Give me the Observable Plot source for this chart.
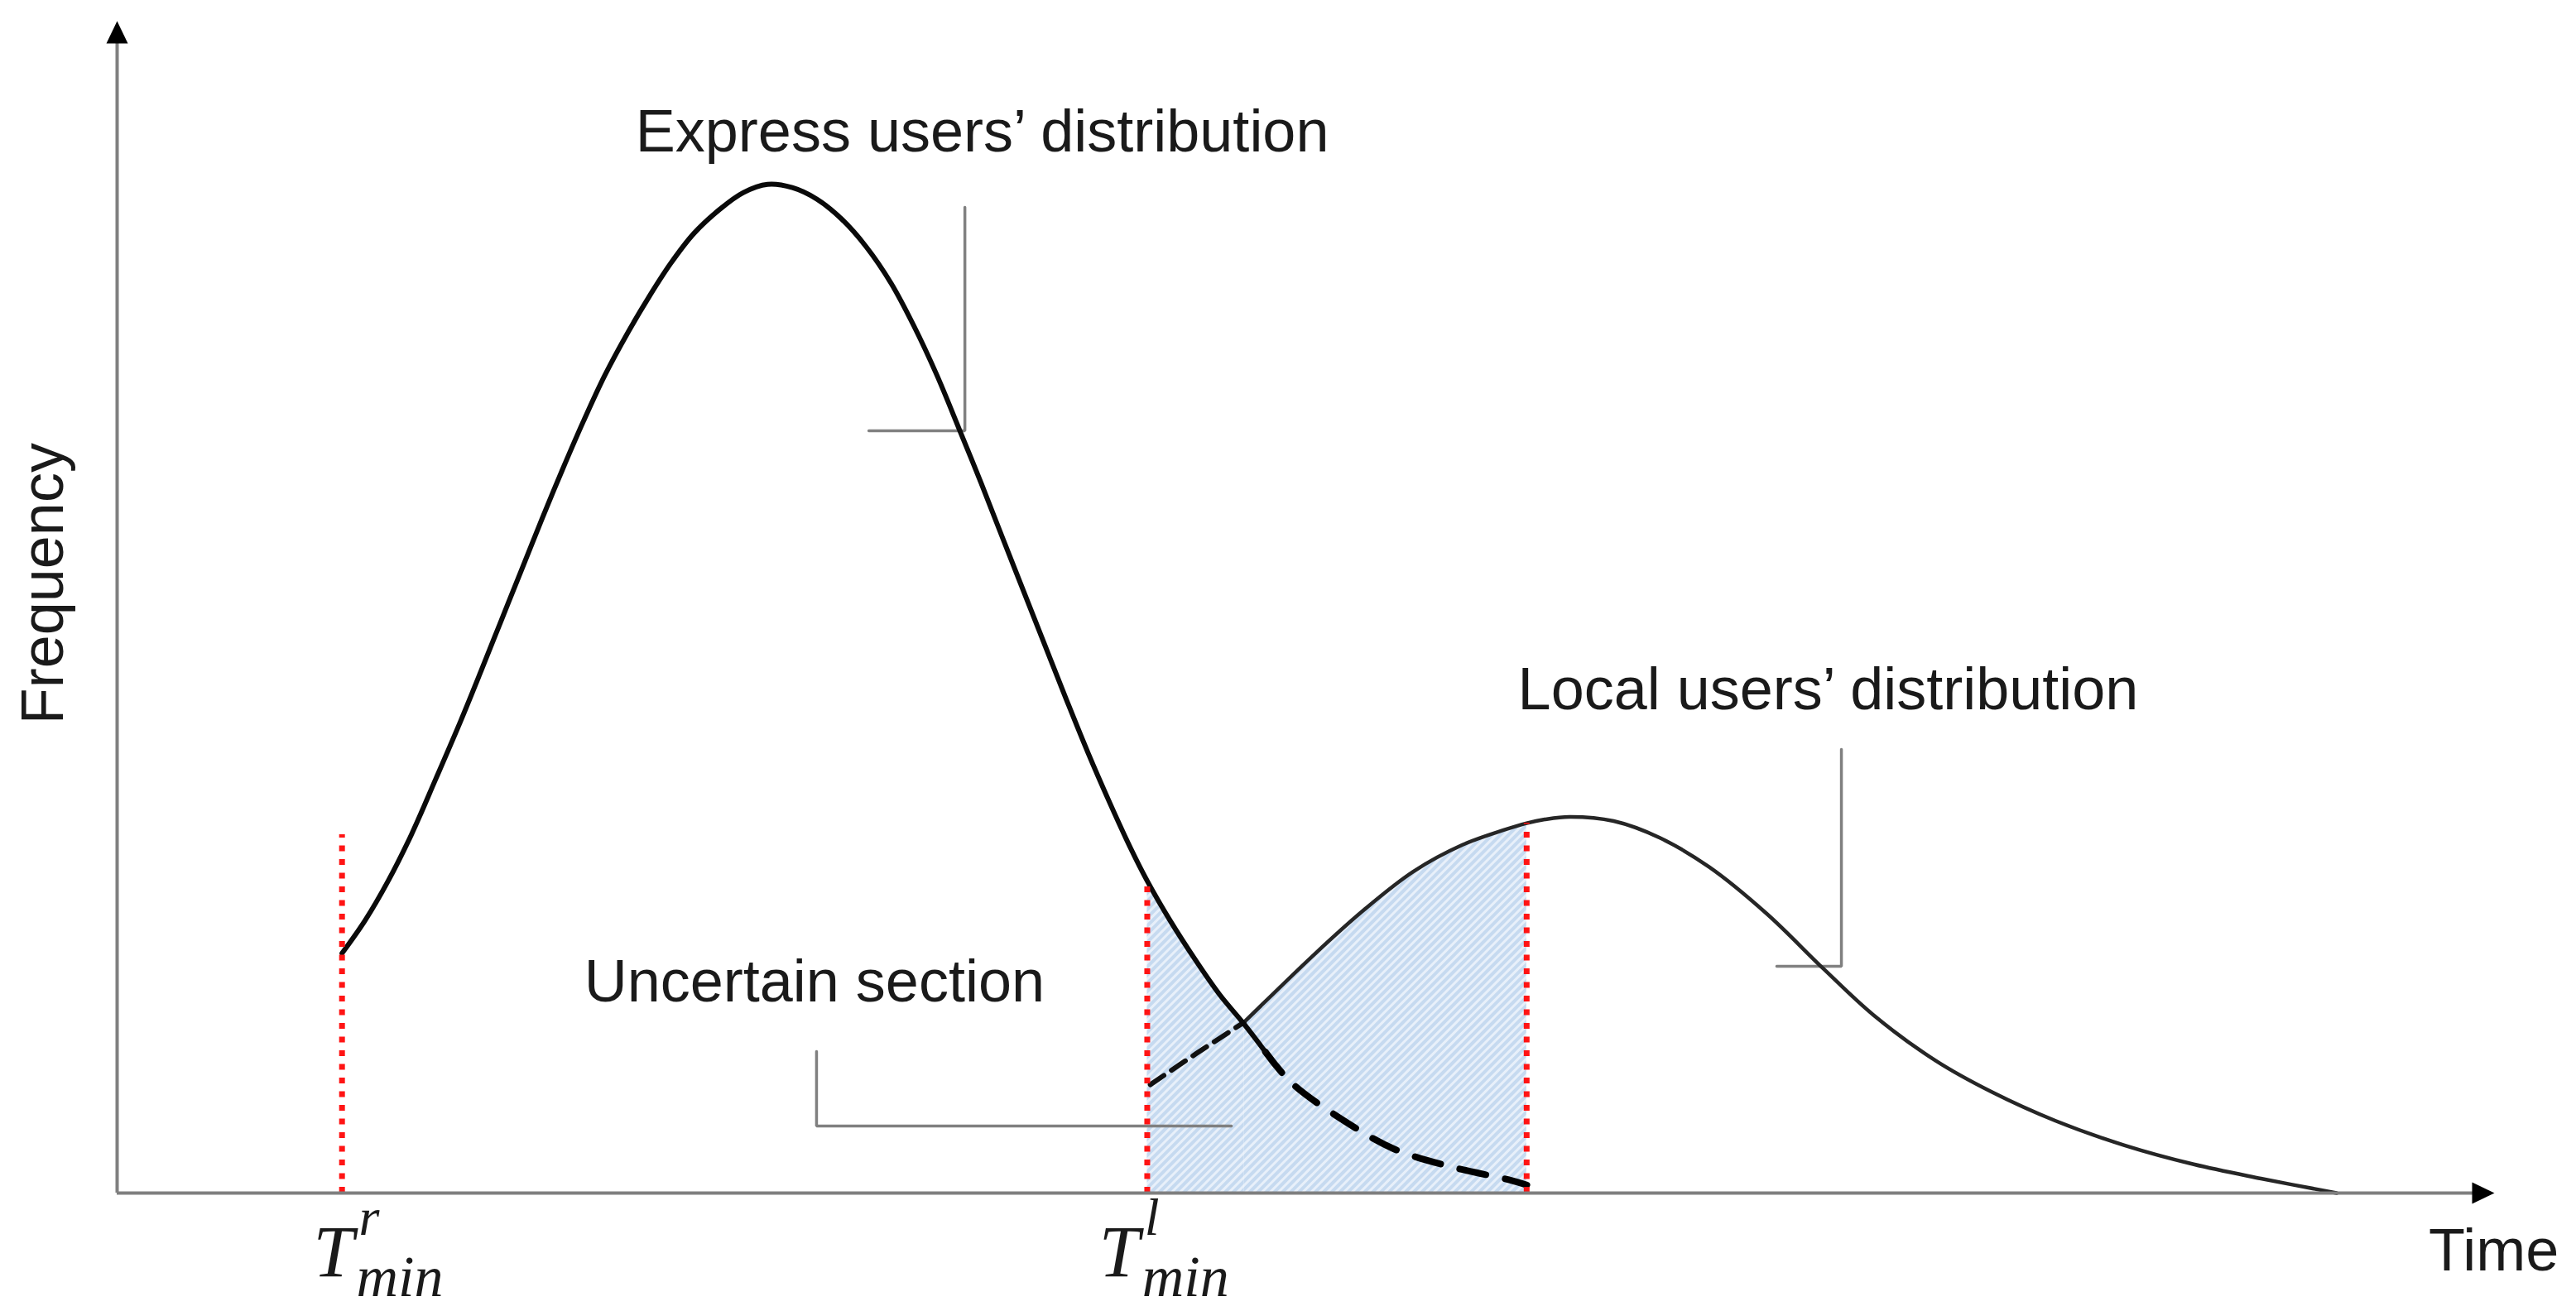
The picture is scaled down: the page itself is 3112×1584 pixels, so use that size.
<!DOCTYPE html>
<html>
<head>
<meta charset="utf-8">
<script src="https://cdn.jsdelivr.net/npm/d3@7"></script>
<script src="https://cdn.jsdelivr.net/npm/@observablehq/plot@0.6"></script>
<style>
  html, body { margin: 0; padding: 0; background: #ffffff; }
  #chart svg { display: block; }
</style>
</head>
<body>
<div id="chart"></div>
<script>
// ---------- data (time units 0..100, frequency units 0..100) ----------
const expressTime = [9.46, 10.43, 11.40, 12.37, 13.40, 14.44, 15.34, 16.17, 17.00, 17.89, 18.72, 19.62, 20.52, 21.49, 22.39, 23.29, 24.25, 25.36, 26.33, 27.36, 28.40, 29.44, 30.47, 31.51, 32.55, 33.51, 34.48, 35.45, 36.35, 37.24, 38.14, 39.04, 39.94, 40.84, 41.74, 42.63, 43.33, 44.29, 45.40, 46.37, 47.40, 48.30];
const expressFreq = [20.46, 23.26, 26.63, 30.55, 35.32, 40.23, 44.71, 48.92, 53.12, 57.61, 61.67, 65.88, 69.80, 73.45, 76.53, 79.34, 81.86, 83.96, 85.36, 86.07, 85.79, 84.80, 83.12, 80.74, 77.65, 74.01, 69.80, 65.04, 60.55, 55.93, 51.30, 46.67, 42.05, 37.56, 33.36, 29.43, 26.63, 23.26, 19.76, 16.95, 14.43, 12.05];
const expressTailTime = [48.30, 49.41, 51.62, 53.69, 56.11, 58.60, 59.30];
const expressTailFreq = [12.05, 9.38, 6.16, 3.78, 2.24, 1.11, 0.69];

const localHeadTime = [43.46, 45.40, 47.40];
const localHeadFreq = [9.25, 11.91, 14.57];
const localTime = [47.40, 50.37, 52.45, 54.52, 56.59, 58.32, 59.29, 60.05, 61.09, 62.95, 64.89, 66.96, 69.38, 71.80, 73.87, 76.50, 78.85, 81.54, 84.44, 87.35, 90.18, 93.36];
const localFreq = [14.57, 20.39, 24.17, 27.43, 29.71, 30.97, 31.56, 31.88, 32.10, 31.74, 30.31, 27.83, 23.85, 19.09, 15.20, 11.29, 8.63, 6.16, 4.07, 2.45, 1.24, 0.00];

// thresholds (red dotted lines)
const thresholdTime = [9.46, 43.33, 59.29];
const thresholdTop = [30.58, 26.63, 31.56];

// tick labels T^r_min, T^l_min
const tickSup = ["r", "l"];
const tickLabelTime = [8.25, 41.30];

// annotations
const annotationText = ["Express users’ distribution", "Local users’ distribution", "Uncertain section"];
const annotationTime = [36.39, 71.97, 29.33];
const annotationFreq = [90.5, 42.9, 18.0];
// leader lines (elbow): text end, corner, curve end
const leaderId = ["e", "e", "e", "l", "l", "l", "u", "u", "u"];
const leaderTime = [35.66, 35.66, 31.62, 72.53, 72.53, 69.81, 29.42, 29.42, 46.87];
const leaderFreq = [84.11, 65.04, 65.04, 37.85, 19.35, 19.35, 12.08, 5.72, 5.72];

const axisTitles = ["Time", "Frequency"];

// ---------- build rows ----------
const rows = (ts, fs) => ts.map((t, i) => ({t, f: fs[i]}));
const express = rows(expressTime, expressFreq);
const expressTail = rows(expressTailTime, expressTailFreq);
const localHead = rows(localHeadTime, localHeadFreq);
const local = rows(localTime, localFreq);
const thresholds = rows(thresholdTime, thresholdTop);
const leaders = leaderTime.map((t, i) => ({t, f: leaderFreq[i], id: leaderId[i]}));
const annotations = annotationText.map((s, i) => ({s, t: annotationTime[i], f: annotationFreq[i]}));
const ticks = tickSup.map((s, i) => ({s, t: tickLabelTime[i]}));

const tL = thresholdTime[1], tR = thresholdTime[2];
const crossT = localTime[0];
const shadeA = express.filter(d => d.t >= tL && d.t <= crossT + 0.01);
const shadeB = local.filter(d => d.t >= crossT && d.t <= tR + 0.01);

const arrowUp = {draw(c) { c.moveTo(0, 0); c.lineTo(-13, 27); c.lineTo(13, 27); c.closePath(); }};
const arrowRight = {draw(c) { c.moveTo(0, 0); c.lineTo(-27, -13); c.lineTo(-27, 13); c.closePath(); }};

const sans = "'Liberation Sans', Arial, Helvetica, sans-serif";
const serif = "'Liberation Serif', 'DejaVu Serif', serif";
const textColor = "#1a1a1a";

const svg = Plot.plot({
  width: 3112,
  height: 1584,
  marginLeft: 141,
  marginRight: 99,
  marginTop: 25,
  marginBottom: 143,
  x: {domain: [0, 100], axis: null},
  y: {domain: [0, 100], axis: null},
  style: {background: "#ffffff", fontFamily: sans},
  marks: [
    // hatched uncertain section
    Plot.areaY(shadeA, {x: "t", y: "f", fill: "url(#hatch)", curve: "catmull-rom"}),
    Plot.areaY(shadeB, {x: "t", y: "f", fill: "url(#hatch)", curve: "catmull-rom"}),
    // leader lines
    Plot.line(leaders, {x: "t", y: "f", z: "id", stroke: "#808080", strokeWidth: 3.5, strokeLinejoin: "miter"}),
    // local users distribution
    Plot.line(localHead, {x: "t", y: "f", stroke: "#111111", strokeWidth: 6, strokeDasharray: "20 11", curve: "catmull-rom"}),
    Plot.line(local, {x: "t", y: "f", stroke: "#262626", strokeWidth: 4.5, curve: "catmull-rom"}),
    // express users distribution
    Plot.line(expressTail, {x: "t", y: "f", stroke: "#000000", strokeWidth: 8, strokeDasharray: "32 24", curve: "catmull-rom"}),
    Plot.line(express, {x: "t", y: "f", stroke: "#0a0a0a", strokeWidth: 6, curve: "catmull-rom"}),
    // red dotted thresholds
    Plot.ruleX(thresholds, {x: "t", y1: () => 0, y2: "f", stroke: "#ff1414", strokeWidth: 7, strokeDasharray: "7 9.5"}),
    // axes
    Plot.ruleY([0], {x1: () => 0, x2: () => 99.1, stroke: "#7f7f7f", strokeWidth: 4}),
    Plot.ruleX([0], {y1: () => 0, y2: () => 98.1, stroke: "#7f7f7f", strokeWidth: 4}),
    Plot.dot([{t: 0, f: 100}], {x: "t", y: "f", symbol: arrowUp, r: 10, fill: "#000000", stroke: null}),
    Plot.dot([{t: 100, f: 0}], {x: "t", y: "f", symbol: arrowRight, r: 10, fill: "#000000", stroke: null}),
    // annotations
    Plot.text(annotations, {x: "t", y: "f", text: "s", fontSize: 72, fill: textColor, textAnchor: "middle", lineAnchor: "middle"}),
    // axis titles
    Plot.text([axisTitles[0]], {x: () => 99.97, y: () => -5.0, text: d => d, fontSize: 72, fill: textColor, lineAnchor: "middle"}),
    Plot.text([axisTitles[1]], {x: () => -3.1, y: () => 52.0, text: d => d, fontSize: 72, fill: textColor, rotate: -90, lineAnchor: "middle"}),
    // tick labels T^x_min
    Plot.text(ticks, {x: "t", y: () => -7.13, text: () => "T", fontSize: 88, fontFamily: serif, fontStyle: "italic", fill: textColor, textAnchor: "start", lineAnchor: "bottom"}),
    Plot.text(ticks, {x: "t", y: () => -3.6, text: "s", dx: 55, fontSize: 64, fontFamily: serif, fontStyle: "italic", fill: textColor, textAnchor: "start", lineAnchor: "bottom"}),
    Plot.text(ticks, {x: "t", y: () => -8.8, text: () => "min", dx: 52, fontSize: 70, fontFamily: serif, fontStyle: "italic", fill: textColor, textAnchor: "start", lineAnchor: "bottom"})
  ]
});

d3.select(svg).insert("defs", ":first-child").html(
  '<pattern id="hatch" patternUnits="userSpaceOnUse" width="7" height="7" patternTransform="rotate(45)">' +
  '<rect width="7" height="7" fill="#c6daf0"/>' +
  '<line x1="3.5" y1="0" x2="3.5" y2="7" stroke="#e8f0fa" stroke-width="3"/>' +
  '</pattern>'
);

document.getElementById("chart").appendChild(svg);
</script>
</body>
</html>
